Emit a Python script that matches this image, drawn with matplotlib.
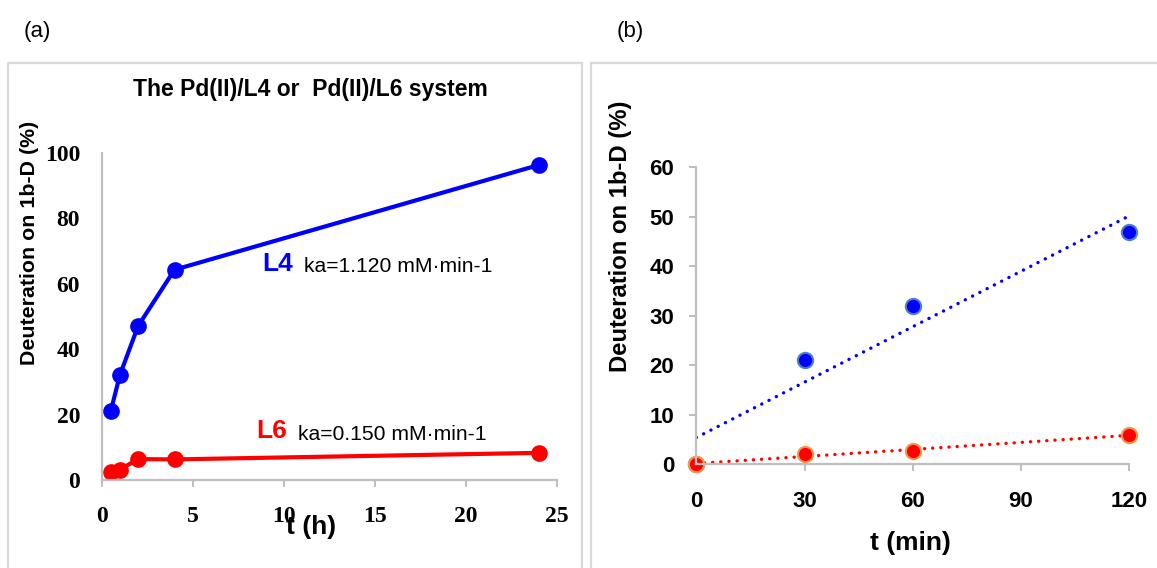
import numpy as np
import matplotlib
matplotlib.use("Agg")
import matplotlib.pyplot as plt
from matplotlib.patches import Rectangle

# (a) deuteration vs time in hours
t_h = [0.5, 1, 2, 4, 24]
l4_pct = [21.1, 32.1, 47.1, 64.3, 96.3]
l6_pct = [2.5, 3.2, 6.4, 6.3, 8.3]

# (b) initial rates, time in minutes
t_min = [0, 30, 60, 120]
l4_init = [0, 21, 32, 47]
l6_init = [0, 2.0, 2.7, 5.9]

x_ticks_a = [0, 5, 10, 15, 20, 25]
y_ticks_a = [0, 20, 40, 60, 80, 100]
x_ticks_b = [0, 30, 60, 90, 120]
y_ticks_b = [0, 10, 20, 30, 40, 50, 60]

SANS = ['Liberation Sans', 'DejaVu Sans']
SERIF = ['Liberation Serif', 'DejaVu Serif']
GREY = '#bfbfbf'
W, H = 1157, 568

fig = plt.figure(figsize=(W / 100, H / 100), dpi=100)


def px(x0, y0, x1, y1):
    # pixel box -> figure fraction rect
    return [x0 / W, 1 - y1 / H, (x1 - x0) / W, (y1 - y0) / H]


# panel frames
fig.patches.append(Rectangle((8 / W, -0.05), (582 - 8) / W, 1.05 - 63 / H,
                             transform=fig.transFigure, fill=False,
                             edgecolor='#d9d9d9', lw=1.6))
fig.patches.append(Rectangle((591 / W, -0.05), 0.6, 1.05 - 63 / H,
                             transform=fig.transFigure, fill=False,
                             edgecolor='#d9d9d9', lw=1.6))

fig.text(37 / W, 1 - 32 / H, '(a)', fontsize=16, family=SANS, ha='center', va='center')
fig.text(630 / W, 1 - 32 / H, '(b)', fontsize=16, family=SANS, ha='center', va='center')

# ---- panel (a)
ax1 = fig.add_axes(px(101.7, 153, 556.7, 480))
ax1.plot(t_h, l4_pct, color='#0000ff', lw=3, marker='o', ms=11, clip_on=False)
ax1.plot(t_h, l6_pct, color='#ff0000', lw=3, marker='o', ms=11, clip_on=False)
ax1.set_xlim(0, 25)
ax1.set_ylim(0, 100)
ax1.set_xticks(x_ticks_a)
ax1.set_yticks(y_ticks_a)
for s in ['top', 'right']:
    ax1.spines[s].set_visible(False)
for s in ['left', 'bottom']:
    ax1.spines[s].set_color(GREY)
    ax1.spines[s].set_linewidth(1.6)
ax1.tick_params(axis='x', direction='out', length=5, width=1.4, color=GREY, pad=13.5)
ax1.tick_params(axis='y', length=0, pad=15.5)
for lab in ax1.get_xticklabels() + ax1.get_yticklabels():
    lab.set_family(SERIF)
    lab.set_fontweight('bold')
    lab.set_fontsize(17)

fig.text(310 / W, 1 - 89 / H, 'The Pd(II)/L4 or  Pd(II)/L6 system',
         ha='center', va='center', fontsize=16.5, fontweight='bold', family=SANS)
fig.text(30 / W, 1 - 243 / H, 'Deuteration on 1b-D (%)', rotation=90,
         ha='center', va='center', fontsize=15.4, fontweight='bold', family=SANS)
fig.text(311 / W, 1 - 527 / H, 't (h)', ha='center', va='center',
         fontsize=19, fontweight='bold', family=SANS)

fig.text(262 / W, 1 - 264 / H, 'L4', color='#0000ff', ha='left', va='center',
         fontsize=19, fontweight='bold', family=SANS)
fig.text(304 / W, 1 - 267 / H, 'ka=1.120 mM·min-1', ha='left', va='center',
         fontsize=15.2, family=SANS)
fig.text(256 / W, 1 - 431 / H, 'L6', color='#ff0000', ha='left', va='center',
         fontsize=19, fontweight='bold', family=SANS)
fig.text(298 / W, 1 - 434 / H, 'ka=0.150 mM·min-1', ha='left', va='center',
         fontsize=15.2, family=SANS)

# ---- panel (b)
ax2 = fig.add_axes(px(696.3, 167.3, 1129.3, 464.3))
tt = np.array([0, 120])
for yv, fc, ec in [(l4_init, '#0000ff', '#4f81bd'), (l6_init, '#ff0000', '#f79646')]:
    k, b = np.polyfit(t_min, yv, 1)
    ax2.plot(tt, k * tt + b, color=fc, lw=2.4, linestyle=(0, (0.05, 2.4)),
             dash_capstyle='round', zorder=1.5)
    ax2.plot(t_min, yv, linestyle='none', marker='o', ms=11, mfc=fc,
             mec=ec, mew=1.5, clip_on=False, zorder=2)
ax2.set_xlim(0, 120)
ax2.set_ylim(0, 60)
ax2.set_xticks(x_ticks_b)
ax2.set_yticks(y_ticks_b)
for s in ['top', 'right']:
    ax2.spines[s].set_visible(False)
for s in ['left', 'bottom']:
    ax2.spines[s].set_color(GREY)
    ax2.spines[s].set_linewidth(1.6)
    ax2.spines[s].set_zorder(3)
ax2.tick_params(direction='out', length=5, width=1.4, color=GREY)
ax2.tick_params(axis='x', pad=14)
ax2.tick_params(axis='y', pad=11)
for lab in ax2.get_xticklabels() + ax2.get_yticklabels():
    lab.set_family(SANS)
    lab.set_fontweight('bold')
    lab.set_fontsize(16)

fig.text(620 / W, 1 - 236 / H, 'Deuteration on 1b-D (%)', rotation=90,
         ha='center', va='center', fontsize=17.2, fontweight='bold', family=SANS)
fig.text(910 / W, 1 - 543 / H, 't (min)', ha='center', va='center',
         fontsize=19, fontweight='bold', family=SANS)

fig.savefig('out.png', dpi=100)
